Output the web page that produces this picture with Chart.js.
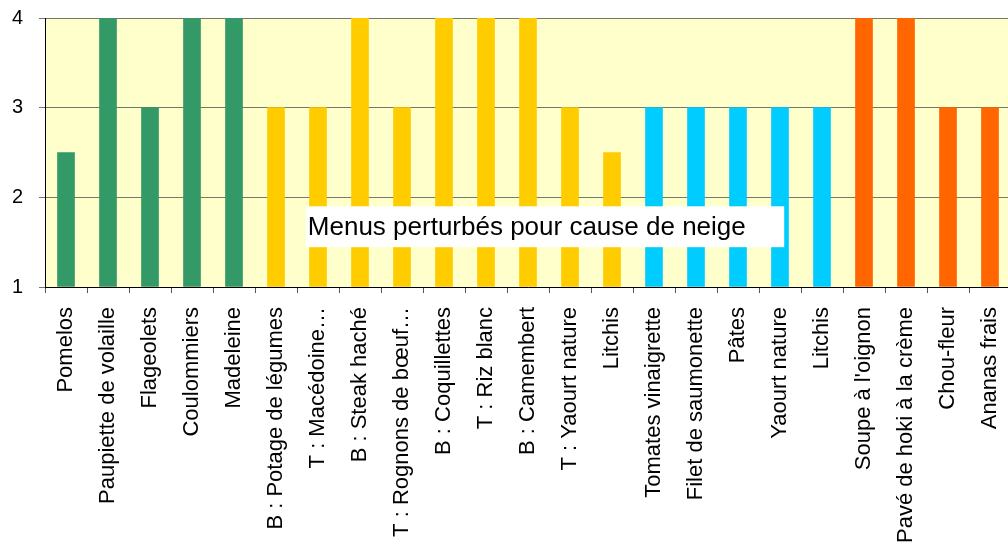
<!DOCTYPE html>
<html>
<head>
<meta charset="utf-8">
<script src="https://cdn.jsdelivr.net/npm/chart.js@4/dist/chart.umd.min.js"></script>
<style>
  html, body { margin: 0; padding: 0; background: #ffffff; overflow: hidden; }
  #wrap { width: 1008px; height: 551px; position: relative; overflow: hidden; }
</style>
</head>
<body>
<div id="wrap"><canvas id="c" width="1011" height="551"></canvas></div>
<script>
const categories = [
  "Pomelos", "Paupiette de volaille", "Flageolets", "Coulommiers", "Madeleine",
  "B : Potage de légumes", "T : Macédoine…", "B : Steak haché", "T : Rognons de bœuf…",
  "B : Coquillettes", "T : Riz blanc", "B : Camembert", "T : Yaourt nature", "Litchis",
  "Tomates vinaigrette", "Filet de saumonette", "Pâtes", "Yaourt nature", "Litchis",
  "Soupe à l'oignon", "Pavé de hoki à la crème", "Chou-fleur", "Ananas frais"
];
const values = [2.5, 4, 3, 4, 4, 3, 3, 4, 3, 4, 4, 4, 3, 2.5, 3, 3, 3, 3, 3, 4, 4, 3, 3];
const groups = [0,0,0,0,0, 1,1,1,1,1,1,1,1,1, 2,2,2,2,2, 3,3,3,3];
const groupColors = ["#339966", "#FFCC00", "#00CCFF", "#FF6600"];
const yTicks = [1, 2, 3, 4];
const noteText = "Menus perturbés pour cause de neige";

const FONT = "'Liberation Sans', Arial, sans-serif";

const bgPlugin = {
  id: 'bg',
  beforeDraw(chart) {
    const { ctx, chartArea: a } = chart;
    ctx.save();
    ctx.fillStyle = '#FFFFCC';
    ctx.fillRect(a.left, a.top, a.right - a.left, a.bottom - a.top);
    ctx.restore();
  }
};

const notePlugin = {
  id: 'note',
  afterDraw(chart) {
    const { ctx } = chart;
    const x = chart.scales.x, y = chart.scales.y;
    const l = x.getPixelForValue(5.71), r = x.getPixelForValue(17.1);
    const t = y.getPixelForValue(1.9), b = y.getPixelForValue(1.444);
    ctx.save();
    ctx.fillStyle = '#ffffff';
    ctx.fillRect(l, t, r - l, b - t);
    ctx.fillStyle = '#000000';
    ctx.font = "26px " + FONT;
    ctx.textBaseline = 'middle';
    ctx.textAlign = 'left';
    ctx.fillText(noteText, l + 2, (t + b) / 2 + 1);
    ctx.restore();
  }
};

new Chart(document.getElementById('c'), {
  type: 'bar',
  data: {
    labels: categories,
    datasets: [{
      data: values,
      backgroundColor: groups.map(g => groupColors[g]),
      borderWidth: 0,
      barThickness: 17,
      base: 1
    }]
  },
  options: {
    responsive: false,
    animation: false,
    devicePixelRatio: 1,
    layout: { padding: { top: 18, right: 0, left: 0, bottom: 0 } },
    plugins: { legend: { display: false }, tooltip: { enabled: false } },
    scales: {
      x: {
        offset: true,
        grid: {
          offset: true,
          drawOnChartArea: false,
          drawTicks: true,
          tickLength: 6,
          color: '#555555',
          lineWidth: 1
        },
        border: { display: true, color: '#000000', width: 1 },
        ticks: {
          autoSkip: false,
          maxRotation: 90,
          minRotation: 90,
          padding: 14,
          color: '#000000',
          font: { family: FONT, size: 22 }
        },
        afterFit(scale) {
          scale.height = 264;
          scale.paddingRight = 0;
          scale.paddingLeft = 0;
        }
      },
      y: {
        min: 1,
        max: 4,
        afterBuildTicks(scale) { scale.ticks = yTicks.map(v => ({ value: v })); },
        grid: {
          color: '#76766a',
          lineWidth: 1,
          drawTicks: true,
          tickLength: 6
        },
        border: { display: true, color: '#000000', width: 1 },
        ticks: {
          padding: 16,
          color: '#000000',
          font: { family: FONT, size: 20 }
        },
        afterFit(scale) {
          scale.width = 45;
          scale.paddingTop = 0;
          scale.paddingBottom = 0;
        }
      }
    }
  },
  plugins: [bgPlugin, notePlugin]
});
</script>
</body>
</html>
